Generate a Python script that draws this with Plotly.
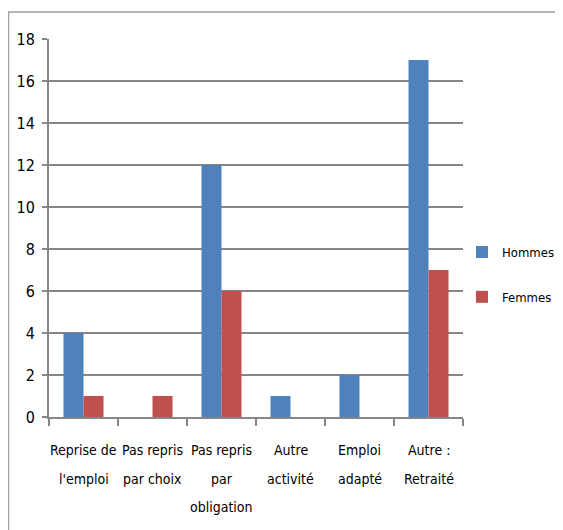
import plotly.graph_objects as go

categories = ["Reprise de<br>l'emploi", "Pas repris<br>par choix", "Pas repris<br>par<br>obligation",
              "Autre<br>activité", "Emploi<br>adapté", "Autre :<br>Retraité"]
hommes = [4, 0, 12, 1, 2, 17]
femmes = [1, 1, 6, 0, 0, 7]
y_ticks = [0, 2, 4, 6, 8, 10, 12, 14, 16, 18]

FONT = "DejaVu Sans Condensed, Liberation Sans Narrow, sans-serif"
GRID = "#868686"
# page has an 8px body margin; figure coordinates below are page coords minus 8
W, H = 555, 522
L, T = 41, 31
R, B = W - 455, H - 409
pw, ph = W - L - R, H - T - B

xs = list(range(len(categories)))
fig = go.Figure()
fig.add_trace(go.Bar(x=xs, y=hommes, name="Hommes", marker=dict(color="#4F81BD", line=dict(width=0)),
                     legendgroup="h"))
fig.add_trace(go.Bar(x=xs, y=femmes, name="Femmes", marker=dict(color="#C0504D", line=dict(width=0)),
                     legendgroup="f"))

# category labels, one annotation per line for Excel-like spacing
for i, c in enumerate(categories):
    for j, line in enumerate(c.split("<br>")):
        fig.add_annotation(x=i, xref="x", y=-(33 + j * 28.5) / ph, yref="paper",
                           text=line, showarrow=False, yanchor="middle", xanchor="center",
                           font=dict(family=FONT, size=14, color="#000"))

# outer chart border (Excel chart area)
fig.add_shape(type="rect", xref="paper", yref="paper",
              x0=(0.5 - L) / pw, x1=(W + 20 - L) / pw, y0=-(B + 20) / ph, y1=1 + (T - 4) / ph,
              line=dict(color="#A0A0A0", width=1.5), fillcolor="rgba(0,0,0,0)", layer="below")

fig.update_layout(
    width=W, height=H,
    margin=dict(l=L, r=R, t=T, b=B, autoexpand=False),
    paper_bgcolor="white", plot_bgcolor="white",
    barmode="group", bargap=0.42, bargroupgap=0,
    font=dict(family=FONT, size=14, color="#000"),
    showlegend=True,
    legend=dict(x=(454 - L) / pw, y=1 - (229 - T) / ph, xanchor="left", yanchor="top", itemwidth=30,
                font=dict(family=FONT, size=13), tracegroupgap=25, bgcolor="rgba(0,0,0,0)"),
    xaxis=dict(range=[-0.5, len(categories) - 0.5], tickvals=[i - 0.5 for i in range(len(categories) + 1)],
               ticktext=[""] * (len(categories) + 1), ticks="outside", ticklen=7, tickwidth=2, tickcolor=GRID,
               showline=True, linecolor=GRID, linewidth=2, showgrid=False, zeroline=False, fixedrange=True),
    yaxis=dict(range=[0, 18], tickvals=y_ticks, ticks="outside", ticklen=5, tickwidth=2, tickcolor=GRID,
               showline=True, linecolor=GRID, linewidth=2, showgrid=True, gridcolor=GRID, gridwidth=2,
               zeroline=False, ticklabelstandoff=4, tickfont=dict(family=FONT, size=16)),
)

fig.write_html("out.html")
